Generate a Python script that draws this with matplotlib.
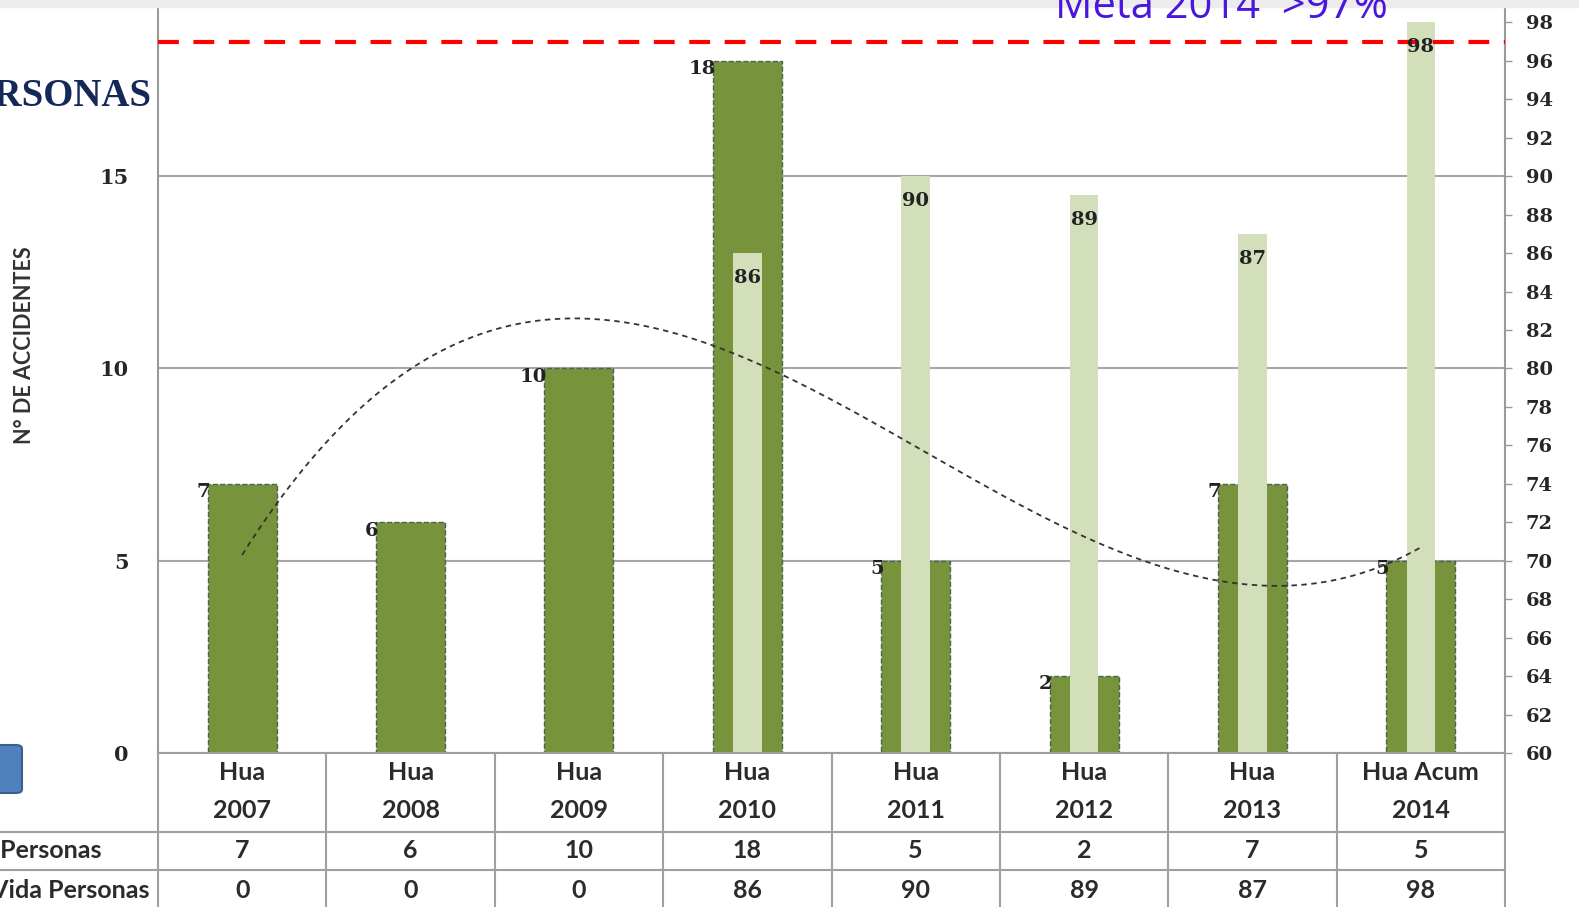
import numpy as np
import matplotlib.pyplot as plt
from matplotlib.patches import Rectangle, FancyBboxPatch

# data
categories = ["Hua\n2007", "Hua\n2008", "Hua\n2009", "Hua\n2010",
              "Hua\n2011", "Hua\n2012", "Hua\n2013", "Hua Acum\n2014"]
accidentes = [7, 6, 10, 18, 5, 2, 7, 5]
cultura = [0, 0, 0, 86, 90, 89, 87, 98]
meta = 97
row_labels = ["N° Accidentes Personas", "% Respeto a la Vida Personas"]
left_ticks = [0, 5, 10, 15]
right_ticks = list(range(60, 99, 2))

W, H = 1579, 907
fig = plt.figure(figsize=(W / 100, H / 100), dpi=100)
fig.patches.append(Rectangle((0, 1 - 7 / H), 1, 7 / H, transform=fig.transFigure,
                             color='#ececec', zorder=0))

ax = fig.add_axes([158 / W, 154 / H, 1347 / W, 746 / H])
x = np.arange(len(categories))

ax.bar(x, accidentes, width=0.41, color='#77933C', edgecolor='#4f6152',
       linestyle='--', linewidth=1, zorder=2)
ax.set_xlim(-0.5, 7.5)
ax.set_ylim(0, 19.4)
ax.set_yticks(left_ticks)
ax.set_xticks([])
ax.yaxis.grid(True, color='#a6a6a6', lw=1.5)
ax.set_axisbelow(True)
for s in ['top', 'bottom', 'right']:
    ax.spines[s].set_visible(False)
ax.spines['left'].set_color('#9a9a9a')
ax.spines['left'].set_linewidth(1.5)
ax.tick_params(axis='y', length=0, pad=21)
for t in ax.get_yticklabels():
    t.set_fontfamily('DejaVu Serif')
    t.set_fontweight('bold')
    t.set_fontsize(15)
    t.set_color('#262626')

ax2 = ax.twinx()
ax2.set_ylim(60, 98.8)
ax2.set_yticks(right_ticks)
ax2.bar(x, np.array(cultura) - 60, bottom=60, width=0.17, color='#D3DEBB', zorder=2)
for s in ['top', 'bottom', 'left']:
    ax2.spines[s].set_visible(False)
ax2.spines['right'].set_color('#9a9a9a')
ax2.spines['right'].set_linewidth(1.5)
ax2.tick_params(axis='y', length=5, width=1, color='#9a9a9a', pad=10)
for t in ax2.get_yticklabels():
    t.set_fontfamily('DejaVu Serif')
    t.set_fontweight('bold')
    t.set_fontsize(14)
    t.set_color('#262626')

# polynomial trend (order 3) of the accident series, as in the source chart
coef = np.polyfit(x, accidentes, 3)
xs = np.linspace(0, 7, 200)
ax2.plot(xs, np.polyval(coef, xs), transform=ax.transData, color='#333333',
         lw=1.3, linestyle=(0, (3, 2.5)), zorder=4)

# goal line
ax2.axhline(meta, color='#FF0000', lw=3, dashes=(5, 3.5), zorder=5)

# value labels
for i, v in enumerate(accidentes):
    ax2.annotate(str(v), (i - 0.205, v), xycoords=ax.transData, xytext=(2, -6),
                 textcoords='offset points', ha='right', va='center',
                 family='DejaVu Serif', weight='bold', size=14, color='#222222')
for i, v in enumerate(cultura):
    if v > 0:
        ax2.annotate(str(v), (i, v), xytext=(0, -18), textcoords='offset points',
                     ha='center', va='center', family='DejaVu Serif',
                     weight='bold', size=14, color='#222222', zorder=6)

# data table under the chart
tab = fig.add_axes([158 / W, 0, 1347 / W, 154 / H])
tab.set_xlim(-0.5, 7.5)
tab.set_ylim(0, 154)
tab.axis('off')
lc = '#9f9f9f'
for b in np.arange(-0.5, 8, 1):
    tab.plot([b, b], [0, 154], color=lc, lw=1.5, clip_on=False)
tab.axhline(154, color=lc, lw=1.5, clip_on=False)
for yy in [75, 37]:
    tab.axhline(yy, xmin=-158 / 1347, xmax=1, color=lc, lw=1.5, clip_on=False)

tkw = dict(ha='center', va='center', family='Lato', weight='bold', size=18, color='#2b2b2b')
for i, c in enumerate(categories):
    top, bottom = c.split("\n")
    tab.text(i, 135, top, **tkw)
    tab.text(i, 97, bottom, **tkw)
    tab.text(i, 56, str(accidentes[i]), **tkw)
    tab.text(i, 17, str(cultura[i]), **tkw)
tab.text(-0.5 - 57 / 168.4, 56, row_labels[0], clip_on=False,
         **{**tkw, 'ha': 'right'})
tab.text(-0.5 - 9 / 168.4, 17, row_labels[1], clip_on=False,
         **{**tkw, 'ha': 'right'})

# surrounding slide text
fig.text(25 / W, 1 - 345 / H, "N° DE ACCIDENTES", rotation=90, ha='center', va='center',
         family='Lato', weight='bold', size=15.5, color='#333333')
fig.text(151 / W, 1 - 96 / H, "PERSONAS", ha='right', va='center',
         family='Liberation Serif', weight='bold', size=28, color='#14285A')
fig.text(1055 / W, 1 - 18 / H, "Meta 2014  >97%", ha='left', va='baseline',
         family='Open Sans', size=30, color='#4B16DC')

fig.patches.append(FancyBboxPatch((-12 / W, 1 - 793 / H), 34 / W, 48 / H,
                                  boxstyle='round,pad=0,rounding_size=0.004',
                                  transform=fig.transFigure, fc='#4F81BD',
                                  ec='#3A5F8C', lw=1.5))

fig.savefig('out.png', dpi=100)
